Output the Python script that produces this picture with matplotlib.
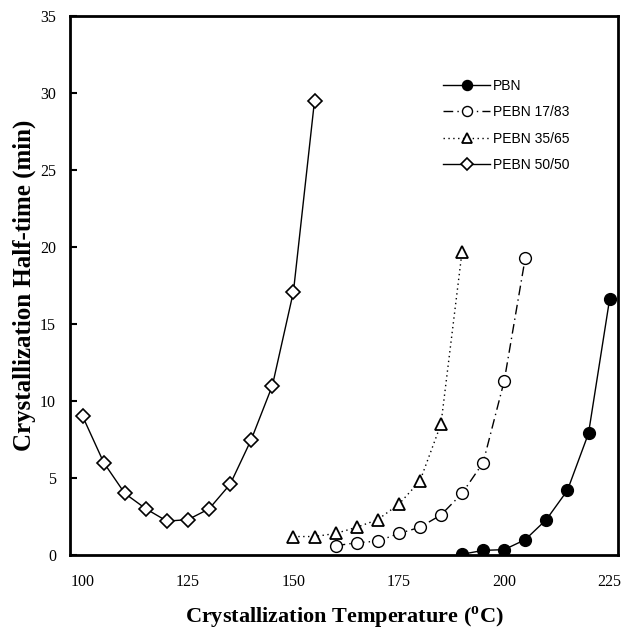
import matplotlib
matplotlib.use("Agg")
import matplotlib.pyplot as plt

plt.rcParams["mathtext.fontset"] = "custom"
plt.rcParams["mathtext.rm"] = "Liberation Serif:bold"

# Data
t_pbn = [190, 195, 200, 205, 210, 215, 220, 225]
h_pbn = [0.05, 0.3, 0.35, 1.0, 2.3, 4.2, 7.9, 16.6]

t_1783 = [160, 165, 170, 175, 180, 185, 190, 195, 200, 205]
h_1783 = [0.6, 0.8, 0.9, 1.4, 1.8, 2.6, 4.0, 6.0, 11.3, 19.3]

t_3565 = [150, 155, 160, 165, 170, 175, 180, 185, 190]
h_3565 = [1.2, 1.2, 1.4, 1.8, 2.3, 3.3, 4.8, 8.5, 19.7]

t_5050 = [100, 105, 110, 115, 120, 125, 130, 135, 140, 145, 150, 155]
h_5050 = [9.0, 6.0, 4.0, 3.0, 2.2, 2.3, 3.0, 4.6, 7.5, 11.0, 17.1, 29.5]

labels = ["PBN", "PEBN 17/83", "PEBN 35/65", "PEBN 50/50"]
xticks = [100, 125, 150, 175, 200, 225]
yticks = [0, 5, 10, 15, 20, 25, 30, 35]

fig = plt.figure(figsize=(6.23, 6.32), dpi=100)
ax = fig.add_axes([0.1124, 0.1218, 0.8796, 0.8529])

lw = 1.0
ms = 8.5
ax.plot(t_pbn, h_pbn, color="black", lw=lw, marker="o", ms=ms,
        mfc="black", mec="black", label=labels[0])
ax.plot(t_1783, h_1783, color="black", lw=lw, marker="o", ms=ms,
        mfc="white", mec="black", mew=1.0, dashes=(7, 3, 1, 3), label=labels[1])
ax.plot(t_3565, h_3565, color="black", lw=lw, marker="^", ms=ms,
        mfc="white", mec="black", mew=1.3, dashes=(1, 2.5), label=labels[2])
ax.plot(t_5050, h_5050, color="black", lw=lw, marker="D", ms=7,
        mfc="white", mec="black", mew=1.2, label=labels[3])

ax.set_xlim(97, 227)
ax.set_ylim(0, 35)
ax.set_xticks(xticks)
ax.set_yticks(yticks)
ax.tick_params(axis="x", length=0, pad=14, labelsize=11.5)
ax.tick_params(axis="y", direction="in", length=5, width=1.5, pad=10, labelsize=11.5)
for lab in ax.get_xticklabels() + ax.get_yticklabels():
    lab.set_family("Liberation Serif")
for sp in ax.spines.values():
    sp.set_linewidth(2.0)

ax.set_xlabel(r"Crystallization Temperature ($^{\mathrm{o}}$C)", family="Liberation Serif",
              fontweight="bold", fontsize=16, labelpad=10)
ax.set_ylabel("Crystallization Half-time (min)", family="Liberation Serif",
              fontweight="bold", fontsize=18, labelpad=3)

leg = ax.legend(loc="upper left", bbox_to_anchor=(0.681, 0.884), frameon=False,
                prop={"family": "Liberation Sans", "size": 10},
                handlelength=3.4, labelspacing=0.9, handletextpad=0.2,
                borderpad=0, borderaxespad=0, markerscale=0.85)

fig.savefig("out.png", dpi=100)
